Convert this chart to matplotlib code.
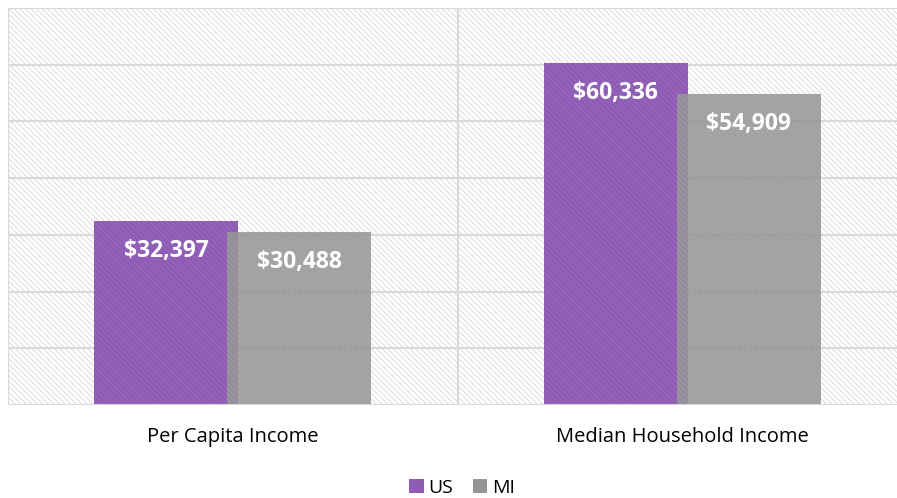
import matplotlib
matplotlib.use("Agg")
import matplotlib.pyplot as plt
from matplotlib.patches import Rectangle
import numpy as np

categories = ["Per Capita Income", "Median Household Income"]
us_values = [32397, 60336]
mi_values = [30488, 54909]
series_names = ["US", "MI"]

plt.rcParams['font.family'] = ['Open Sans', 'DejaVu Sans']
plt.rcParams['hatch.linewidth'] = 0.6

W, H = 897, 498
fig = plt.figure(figsize=(W/100, H/100), dpi=100)
left, right, top, bottom = 8, 897, 8, 405
ax = fig.add_axes([left/W, 1 - bottom/H, (right-left)/W, (bottom-top)/H])

cat_w = 449.5
ax.set_xlim(-0.5, -0.5 + (right-left)/cat_w)
ax.set_ylim(0, 70000)

HATCH = '\\' * 6

# hatched background
bg = Rectangle((0, 0), 1, 1, transform=ax.transAxes, facecolor='white',
               edgecolor='#d6d6d6', hatch=HATCH, lw=0, zorder=0)
ax.add_patch(bg)
ax.patch.set_visible(False)

for y in range(10000, 70001, 10000):
    ax.axhline(y, color='#d9d9d9', lw=1.5, zorder=1)
ax.axvline(-0.5, color='#d9d9d9', lw=1.5, zorder=1)
ax.axvline(0.5, color='#d9d9d9', lw=1.5, zorder=1)
ax.axhline(0, color='#d9d9d9', lw=1.5, zorder=5)

x = np.arange(len(categories))
bw = 0.32
d = 0.148
us_color = '#8E5BB5'
mi_color = '#959595'
ax.bar(x - d, us_values, bw, color=us_color, zorder=2, label=series_names[0])
ax.bar(x - d, us_values, bw, facecolor='none', edgecolor='#9a6cbd', hatch=HATCH, lw=0, zorder=2.1)
ax.bar(x + d, mi_values, bw, color=mi_color, alpha=0.85, zorder=3, label=series_names[1])
ax.bar(x + d, mi_values, bw, facecolor='none', edgecolor='#a0a0a0', hatch=HATCH, lw=0, alpha=0.85, zorder=3.1)

for xi, v in zip(x - d, us_values):
    ax.annotate(f"${v:,}", (xi, v), xytext=(0, -30), textcoords='offset pixels',
                ha='center', va='center', color='white', fontsize=16.5, fontweight='bold', zorder=6)
for xi, v in zip(x + d, mi_values):
    ax.annotate(f"${v:,}", (xi, v), xytext=(0, -30), textcoords='offset pixels',
                ha='center', va='center', color='white', fontsize=16.5, fontweight='bold', zorder=6)

for s in ax.spines.values():
    s.set_visible(False)
ax.set_yticks([])
ax.set_xticks(x)
ax.set_xticklabels(categories, fontsize=14.5)
ax.tick_params(axis='x', length=0, pad=16)

leg = fig.legend(loc='center', bbox_to_anchor=(462/W, 1 - 488/H), ncol=2, frameon=False,
                 fontsize=14, handlelength=0.75, handleheight=0.75, handletextpad=0.25,
                 columnspacing=1.0)
for h in leg.legend_handles:
    h.set_alpha(1)

fig.savefig("out.png", dpi=100)
